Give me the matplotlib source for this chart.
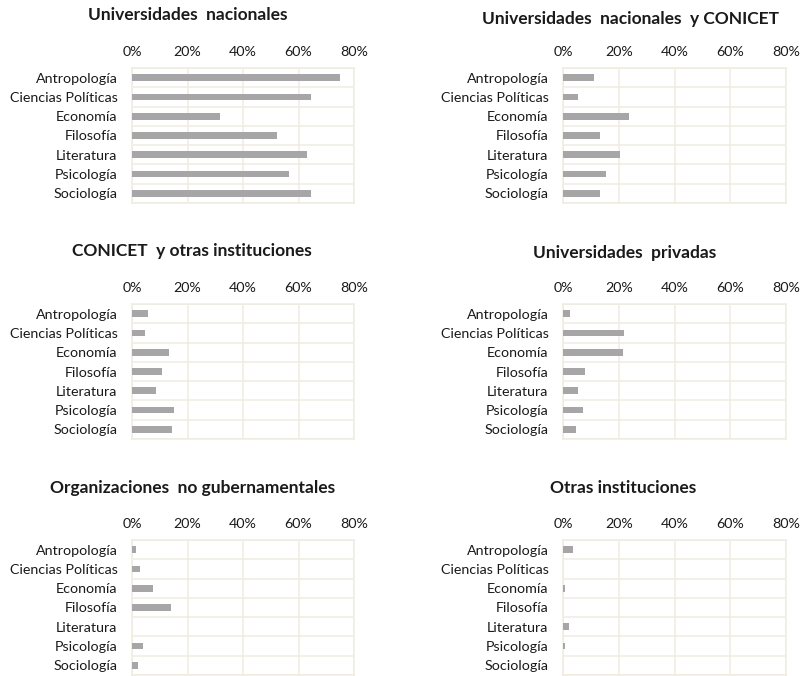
import matplotlib
matplotlib.use("Agg")
import matplotlib.pyplot as plt
from matplotlib.ticker import FixedLocator
import numpy as np

plt.rcParams['font.family'] = ['Lato', 'DejaVu Sans']

categorias = ["Antropología", "Ciencias Políticas", "Economía", "Filosofía",
              "Literatura", "Psicología", "Sociología"]
ticks = [0, 20, 40, 60, 80]
tick_labels = ["0%", "20%", "40%", "60%", "80%"]

titulos = ["Universidades  nacionales",
           "Universidades  nacionales  y CONICET",
           "CONICET  y otras instituciones",
           "Universidades  privadas",
           "Organizaciones  no gubernamentales",
           "Otras instituciones"]

univ_nacionales = [75.0, 64.6, 31.6, 52.3, 62.9, 56.5, 64.6]
univ_conicet = [11.0, 5.3, 23.5, 13.3, 20.3, 15.4, 13.3]
conicet_otras = [5.6, 4.7, 13.3, 10.7, 8.5, 15.0, 14.3]
univ_privadas = [2.6, 22.0, 21.4, 7.8, 5.3, 7.0, 4.6]
ong = [1.3, 3.0, 7.4, 13.9, 0.0, 3.8, 2.2]
otras = [3.7, 0.0, 0.8, 0.0, 2.0, 0.8, 0.0]

series = [univ_nacionales, univ_conicet, conicet_otras, univ_privadas, ong, otras]

W, H = 801, 676
fig = plt.figure(figsize=(W / 100, H / 100), dpi=100)

grid_color = "#efece1"
bar_color = "#a6a6a6"

# plot-area boxes in pixels: (x0, x1, y_top, y_bottom)
lefts = [(132, 354), (563, 786)]
rows = [(68, 203), (304, 439), (540, 675)]
title_pos = [(188, 15), (631, 19), (192, 251), (625, 253), (193, 488), (623, 488)]

for i, vals in enumerate(series):
    x0, x1 = lefts[i % 2]
    yt, yb = rows[i // 2]
    ax = fig.add_axes([x0 / W, 1 - yb / H, (x1 - x0) / W, (yb - yt) / H])
    y = np.arange(len(categorias))
    ax.barh(y, vals, height=0.35, color=bar_color, zorder=3)
    ax.set_xlim(0, 80)
    ax.set_ylim(len(categorias) - 0.5, -0.5)
    ax.set_xticks(ticks)
    ax.set_xticklabels(tick_labels)
    ax.set_yticks(y)
    ax.set_yticklabels(categorias)
    ax.yaxis.set_minor_locator(FixedLocator(np.arange(-0.5, len(categorias), 1)))
    ax.xaxis.tick_top()
    ax.tick_params(axis='both', which='both', length=0, labelsize=10.3, colors="#1a1a1a")
    ax.tick_params(axis='x', pad=7)
    ax.tick_params(axis='y', pad=10.5)
    ax.grid(axis='x', which='major', color=grid_color, linewidth=1.1, zorder=0)
    ax.grid(axis='y', which='minor', color=grid_color, linewidth=1.1, zorder=0)
    for s in ax.spines.values():
        s.set_color(grid_color)
        s.set_linewidth(1.1)
    tx, ty = title_pos[i]
    fig.text(tx / W, 1 - ty / H, titulos[i], ha='center', va='center',
             fontsize=12.5, fontweight='bold', color="#1a1a1a")

fig.savefig("out.png", dpi=100)
